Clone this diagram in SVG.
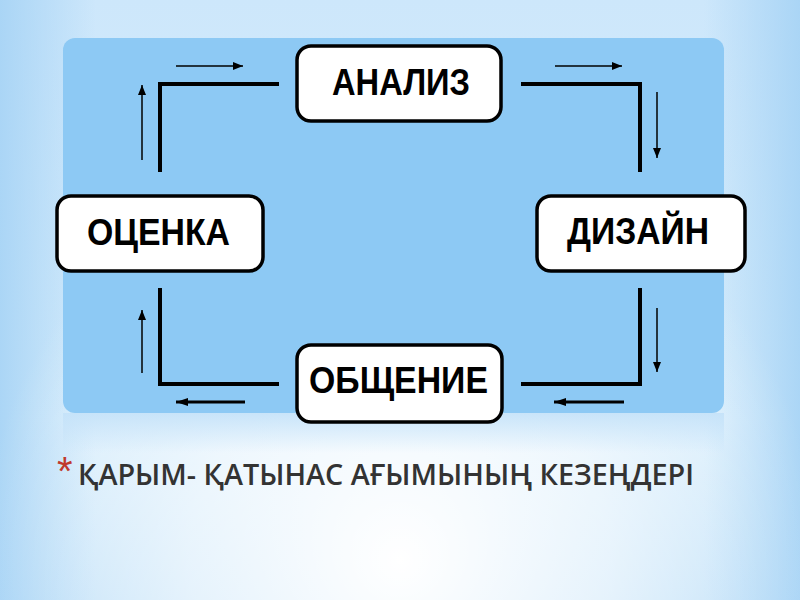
<svg xmlns="http://www.w3.org/2000/svg" width="800" height="600" viewBox="0 0 800 600">
  <defs>
    <linearGradient id="bgLin" x1="0" y1="0" x2="0" y2="1">
      <stop offset="0" stop-color="#cde7fb"/>
      <stop offset="0.7" stop-color="#d9eefc"/>
      <stop offset="1" stop-color="#bfe0f8"/>
    </linearGradient>
    <radialGradient id="bgRad" cx="400" cy="560" r="420" gradientUnits="userSpaceOnUse">
      <stop offset="0" stop-color="#ffffff" stop-opacity="1"/>
      <stop offset="0.5" stop-color="#ffffff" stop-opacity="0.6"/>
      <stop offset="1" stop-color="#ffffff" stop-opacity="0"/>
    </radialGradient>
    <linearGradient id="edgeL" x1="0" y1="0" x2="1" y2="0">
      <stop offset="0" stop-color="#a6d3f5" stop-opacity="0.9"/>
      <stop offset="0.12" stop-color="#a6d3f5" stop-opacity="0"/>
      <stop offset="0.88" stop-color="#a6d3f5" stop-opacity="0"/>
      <stop offset="1" stop-color="#a6d3f5" stop-opacity="0.9"/>
    </linearGradient>
    <linearGradient id="refl" x1="0" y1="0" x2="0" y2="1">
      <stop offset="0" stop-color="#c4e2f9" stop-opacity="0.9"/>
      <stop offset="1" stop-color="#c4e2f9" stop-opacity="0"/>
    </linearGradient>
    <marker id="ahThin" viewBox="0 0 10 8" refX="10" refY="4" markerWidth="10" markerHeight="8" markerUnits="userSpaceOnUse" orient="auto">
      <path d="M0,0 L10,4 L0,8 Z" fill="#000"/>
    </marker>
    <marker id="ahThick" viewBox="0 0 12 10" refX="12" refY="5" markerWidth="12" markerHeight="10" markerUnits="userSpaceOnUse" orient="auto">
      <path d="M0,1 L12,5 L0,9 Z" fill="#000"/>
    </marker>
    <style>
      .box { fill: #ffffff; stroke: #000; stroke-width: 3.5; }
      .lbl { font-family: "Liberation Sans", Arial, sans-serif; font-weight: bold; font-size: 36px; fill: #000; text-anchor: middle; }
      .conn { fill: none; stroke: #000; stroke-width: 4; stroke-linejoin: miter; }
      .thin { fill: none; stroke: #000; stroke-width: 1.5; }
      .thick { fill: none; stroke: #000; stroke-width: 3; }
      .cap { font-family: "Open Sans", "DejaVu Sans", sans-serif; font-weight: 600; font-size: 28px; fill: #333333; }
    </style>
  </defs>

  <rect x="0" y="0" width="800" height="600" fill="url(#bgLin)"/>
  <rect x="0" y="0" width="800" height="600" fill="url(#edgeL)"/>
  <rect x="0" y="0" width="800" height="600" fill="url(#bgRad)"/>

  <rect x="63" y="413" width="661" height="40" fill="url(#refl)"/>
  <rect x="63" y="38" width="661" height="375" rx="12" ry="12" fill="#8dc9f4"/>

  <g id="connectors">
    <path class="conn" d="M279,84 H160 V172"/>
    <path class="conn" d="M521,84 H640 V172"/>
    <path class="conn" d="M640,288 V384 H521"/>
    <path class="conn" d="M160,288 V384 H279"/>
    <path class="thin" d="M176,66 H243" marker-end="url(#ahThin)"/>
    <path class="thin" d="M555,66 H622" marker-end="url(#ahThin)"/>
    <path class="thin" d="M657,92 V158" marker-end="url(#ahThin)"/>
    <path class="thin" d="M657,308 V372" marker-end="url(#ahThin)"/>
    <path class="thin" d="M142,160 V85" marker-end="url(#ahThin)"/>
    <path class="thin" d="M142,373 V310" marker-end="url(#ahThin)"/>
    <path class="thick" d="M245,402 H176" marker-end="url(#ahThick)"/>
    <path class="thick" d="M624,402 H554" marker-end="url(#ahThick)"/>
  </g>

  <g id="node-analiz">
    <rect class="box" x="297" y="46" width="204" height="75" rx="14" ry="14"/>
    <text class="lbl" x="401" y="95" textLength="138" lengthAdjust="spacingAndGlyphs">АНАЛИЗ</text>
  </g>
  <g id="node-dizain">
    <rect class="box" x="537" y="196" width="208" height="75" rx="14" ry="14"/>
    <text class="lbl" x="638" y="244" textLength="142" lengthAdjust="spacingAndGlyphs">ДИЗАЙН</text>
  </g>
  <g id="node-otsenka">
    <rect class="box" x="57" y="196" width="206" height="75" rx="14" ry="14"/>
    <text class="lbl" x="158.5" y="245" textLength="143" lengthAdjust="spacingAndGlyphs">ОЦЕНКА</text>
  </g>
  <g id="node-obshchenie">
    <rect class="box" x="297" y="345" width="205" height="77" rx="14" ry="14"/>
    <text class="lbl" x="398.5" y="393" textLength="179" lengthAdjust="spacingAndGlyphs">ОБЩЕНИЕ</text>
  </g>

  <g id="caption">
    <text x="57" y="485" font-family="'Liberation Sans', Arial, sans-serif" font-size="40" fill="#c0392b">*</text>
    <text class="cap" x="78" y="485" textLength="616" lengthAdjust="spacingAndGlyphs">ҚАРЫМ- ҚАТЫНАС АҒЫМЫНЫҢ КЕЗЕҢДЕРІ</text>
  </g>
</svg>
